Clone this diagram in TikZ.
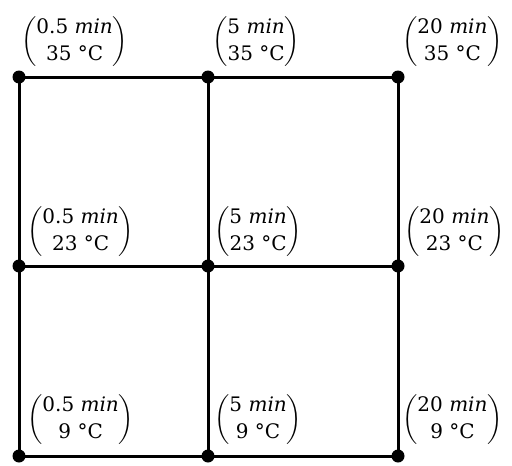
\documentclass[tikz,border=0pt]{standalone}
\usepackage{amsmath}
\usepackage{fontspec}
\setmainfont{DejaVu Serif}
\newcommand{\vlab}[2]{$\begin{pmatrix}\text{#1}\\ \text{#2}\end{pmatrix}$}
\begin{document}
\begin{tikzpicture}[x=1pt,y=-1pt,
  dot/.style={circle,fill=black,inner sep=0pt,minimum size=13pt},
  edge/.style={line width=3pt},
  lab/.style={anchor=south west,inner sep=0pt,font=\fontsize{20}{27}\selectfont}]
\useasboundingbox (0,0) rectangle (512,466);
\node[dot] (a1) at (19,77) {};
\node[dot] (a2) at (208,77) {};
\node[dot] (a3) at (398,77) {};
\node[dot] (b1) at (19,266) {};
\node[dot] (b2) at (208,266) {};
\node[dot] (b3) at (398,266) {};
\node[dot] (c1) at (19,456) {};
\node[dot] (c2) at (208,456) {};
\node[dot] (c3) at (398,456) {};
\draw[edge] (a1.center) -- (a2.center) -- (a3.center);
\draw[edge] (b1.center) -- (b2.center) -- (b3.center);
\draw[edge] (c1.center) -- (c2.center) -- (c3.center);
\draw[edge] (a1.center) -- (b1.center) -- (c1.center);
\draw[edge] (a2.center) -- (b2.center) -- (c2.center);
\draw[edge] (a3.center) -- (b3.center) -- (c3.center);
\node[lab] (la1) at (21,69) {\vlab{0.5 \textit{min}}{35 °C}};
\node[lab] (la2) at (212,69) {\vlab{5 \textit{min}}{35 °C}};
\node[lab] (la3) at (402,69) {\vlab{20 \textit{min}}{35 °C}};
\node[lab] (lb1) at (27,259) {\vlab{0.5 \textit{min}}{23 °C}};
\node[lab] (lb2) at (214,259) {\vlab{5 \textit{min}}{23 °C}};
\node[lab] (lb3) at (404,259) {\vlab{20 \textit{min}}{23 °C}};
\node[lab] (lc1) at (27,447) {\vlab{0.5 \textit{min}}{9 °C}};
\node[lab] (lc2) at (214,447) {\vlab{5 \textit{min}}{9 °C}};
\node[lab] (lc3) at (402,447) {\vlab{20 \textit{min}}{9 °C}};
\end{tikzpicture}
\end{document}
